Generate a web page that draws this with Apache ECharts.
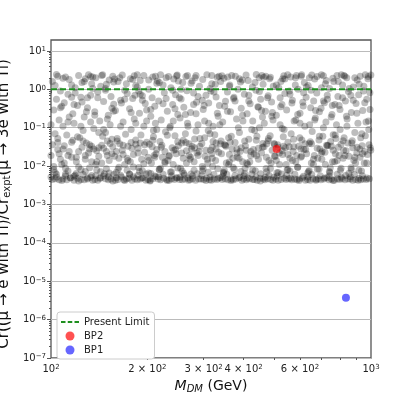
<!DOCTYPE html>
<html>
<head>
<meta charset="utf-8">
<script src="https://cdn.jsdelivr.net/npm/echarts@6/dist/echarts.min.js"></script>
<style>
  html, body { margin: 0; padding: 0; background: #fff; }
  #chart { width: 399px; height: 399px; }
</style>
</head>
<body>
<div id="chart"></div>
<script>
// scan points: [M_DM (GeV), Cr ratio]
const scanPoints = [
  [101,0.0045],[103,0.0047],[106,0.0044],[104,0.0052],[102,0.008],[107,0.015],[105,0.027],[101,0.036],[108,0.011],[103,0.07],[106,0.16],[102,0.29],[104,0.55],[107,0.9],[101,1.6],[105,2.2],
  [109,0.0046],[112,0.0044],[115,0.005],[111,0.0062],[113,0.019],[116,0.042],[110,0.012],[114,0.024],[109,0.11],[112,0.065],[117,0.23],[110,0.45],[113,0.75],[116,1.3],[111,2.1],[114,1.8],
  [118,0.0043],[121,0.0048],[124,0.0045],[119,0.0058],[122,0.0095],[125,0.031],[120,0.017],[123,0.055],[118,0.13],[126,0.085],[121,0.38],[124,0.62],[119,1.1],[122,2.3],[125,1.5],
  [127,0.0044],[130,0.0046],[133,0.0051],[135,0.0043],[128,0.0072],[131,0.022],[134,0.013],[129,0.04],[132,0.028],[136,0.095],[127,0.19],[130,0.33],[133,0.7],[135,1.05],[128,1.9],[131,2.4],[134,1.4],
  [137,0.0045],[140,0.0043],[143,0.0049],[146,0.0055],[138,0.011],[141,0.018],[144,0.035],[139,0.025],[145,0.06],[142,0.15],[137,0.26],[146,0.48],[140,0.85],[143,1.2],[138,2.0],[144,2.3],
  [148,0.0047],[151,0.0044],[154,0.0046],[157,0.006],[149,0.0085],[152,0.014],[155,0.021],[150,0.045],[156,0.032],[153,0.12],[148,0.075],[151,0.21],[157,0.41],[154,0.65],[149,1.35],[152,1.75],[156,2.2],
  [159,0.0043],[162,0.0045],[166,0.0052],[169,0.0044],[160,0.0068],[163,0.016],[167,0.026],[170,0.011],[161,0.052],[164,0.038],[168,0.14],[159,0.28],[165,0.52],[170,0.95],[162,1.6],[167,2.35],
  [172,0.0046],[175,0.0048],[179,0.0043],[183,0.0047],[173,0.0078],[177,0.013],[181,0.02],[174,0.033],[184,0.048],[178,0.09],[182,0.17],[176,0.31],[180,0.58],[173,0.78],[184,1.25],[177,1.9],[182,2.25],
  [186,0.0044],[190,0.0046],[194,0.005],[198,0.0043],[188,0.0092],[192,0.015],[196,0.023],[187,0.029],[199,0.042],[191,0.065],[195,0.11],[189,0.24],[197,0.43],[193,0.68],[186,1.15],[190,1.7],[195,2.3],
  [201,0.0045],[204,0.0043],[208,0.0047],[213,0.0053],[202,0.0066],[206,0.012],[210,0.019],[214,0.027],[203,0.037],[209,0.058],[212,0.13],[205,0.2],[211,0.36],[207,0.6],[202,1.0],[214,1.45],[208,2.1],
  [216,0.0046],[220,0.0044],[225,0.0048],[230,0.0045],[218,0.0081],[223,0.017],[227,0.024],[232,0.014],[219,0.044],[228,0.078],[221,0.16],[231,0.27],[217,0.5],[226,0.82],[224,1.3],[229,2.0],[220,2.4],
  [234,0.0043],[238,0.0047],[243,0.0045],[248,0.005],[236,0.007],[241,0.011],[246,0.021],[239,0.03],[250,0.034],[244,0.062],[235,0.1],[249,0.22],[240,0.4],[245,0.72],[237,1.1],[242,1.85],[247,2.25],
  [252,0.0045],[257,0.0044],[262,0.0046],[268,0.0049],[254,0.0088],[259,0.016],[265,0.025],[270,0.019],[256,0.04],[263,0.07],[253,0.18],[267,0.13],[260,0.34],[255,0.56],[266,0.92],[258,1.5],[264,2.15],
  [272,0.0044],[277,0.0047],[283,0.0043],[290,0.0046],[274,0.0062],[280,0.013],[286,0.022],[275,0.028],[292,0.033],[281,0.051],[288,0.12],[273,0.25],[285,0.46],[279,0.8],[291,1.2],[276,1.65],[284,2.3],
  [294,0.0046],[300,0.0045],[306,0.0048],[313,0.0044],[297,0.0075],[303,0.018],[309,0.012],[315,0.026],[296,0.039],[310,0.085],[302,0.15],[299,0.3],[311,0.44],[305,0.7],[314,1.05],[298,1.8],[307,2.4],
  [317,0.0043],[323,0.0046],[330,0.0045],[338,0.005],[320,0.0097],[327,0.014],[334,0.023],[319,0.031],[340,0.045],[325,0.066],[333,0.2],[321,0.11],[336,0.38],[328,0.63],[318,1.4],[331,2.05],[339,1.6],
  [343,0.0045],[350,0.0047],[357,0.0044],[366,0.0046],[346,0.0069],[353,0.012],[361,0.02],[368,0.028],[348,0.036],[359,0.055],[344,0.14],[364,0.26],[351,0.49],[356,0.85],[362,1.3],[347,1.95],[367,2.3],
  [371,0.0044],[378,0.0046],[386,0.0049],[395,0.0043],[374,0.0083],[382,0.017],[390,0.024],[397,0.013],[376,0.041],[388,0.075],[380,0.17],[393,0.32],[372,0.58],[384,1.0],[391,1.55],[377,2.2],
  [400,0.0046],[408,0.0044],[417,0.0047],[427,0.0045],[403,0.0064],[412,0.011],[421,0.019],[429,0.027],[405,0.034],[415,0.05],[424,0.09],[410,0.23],[419,0.42],[402,0.75],[426,1.15],[413,1.7],[407,2.35],
  [432,0.0045],[441,0.0043],[450,0.0048],[461,0.0046],[435,0.0076],[445,0.015],[455,0.022],[463,0.032],[438,0.047],[448,0.1],[458,0.19],[443,0.35],[452,0.55],[437,0.95],[460,1.35],[447,2.0],[456,2.3],
  [466,0.0044],[475,0.0047],[486,0.0045],[497,0.0051],[470,0.0087],[480,0.014],[491,0.026],[499,0.018],[472,0.038],[484,0.062],[494,0.16],[468,0.27],[489,0.47],[477,0.68],[495,1.2],[482,1.9],[469,2.2],
  [504,0.0046],[513,0.0043],[524,0.0045],[536,0.0048],[508,0.0067],[518,0.011],[529,0.02],[540,0.03],[511,0.036],[532,0.058],[520,0.12],[506,0.21],[527,0.4],[538,0.78],[515,1.1],[523,1.6],[534,2.25],
  [543,0.0045],[553,0.0047],[565,0.0044],[578,0.0046],[547,0.0079],[558,0.016],[571,0.024],[582,0.013],[550,0.042],[563,0.07],[575,0.15],[545,0.29],[568,0.52],[556,0.9],[580,1.3],[561,2.1],[549,2.4],
  [587,0.0044],[597,0.0046],[610,0.0049],[624,0.0043],[590,0.0093],[603,0.017],[617,0.027],[629,0.021],[594,0.033],[608,0.048],[621,0.11],[600,0.24],[614,0.37],[627,0.62],[592,1.0],[619,1.5],[605,2.2],
  [634,0.0045],[645,0.0043],[659,0.0047],[674,0.0045],[638,0.0072],[651,0.012],[665,0.019],[679,0.029],[641,0.039],[655,0.08],[670,0.18],[648,0.33],[662,0.5],[677,0.8],[636,1.25],[667,1.85],[653,2.35],
  [684,0.0047],[697,0.0044],[712,0.0046],[728,0.005],[688,0.0084],[702,0.015],[718,0.023],[733,0.035],[692,0.028],[707,0.06],[723,0.14],[690,0.26],[715,0.45],[730,0.7],[700,1.1],[725,1.7],[710,2.25],
  [739,0.0044],[752,0.0046],[768,0.0043],[786,0.0047],[744,0.0068],[758,0.013],[774,0.021],[790,0.031],[748,0.044],[762,0.066],[780,0.12],[755,0.22],[771,0.4],[788,0.65],[742,1.05],[765,1.6],[783,2.3],
  [797,0.0045],[812,0.0047],[829,0.0044],[848,0.0046],[802,0.0078],[818,0.016],[836,0.025],[853,0.018],[806,0.037],[824,0.055],[842,0.17],[800,0.3],[832,0.5],[850,0.88],[815,1.3],[840,2.0],[808,2.4],
  [861,0.0046],[877,0.0043],[896,0.0045],[918,0.0048],[866,0.009],[884,0.014],[903,0.022],[922,0.028],[871,0.04],[890,0.075],[910,0.13],[868,0.25],[898,0.43],[915,0.72],[880,1.15],[905,1.75],[925,2.2],
  [929,0.0044],[946,0.0046],[967,0.0045],[988,0.0047],[934,0.0074],[953,0.012],[975,0.02],[995,0.03],[938,0.034],[960,0.062],[982,0.15],[942,0.28],[970,0.55],[992,0.82],[950,1.2],[978,1.9],[999,2.35]
]

// more scan points, same units
const scanPointsB = [
  [100,0.0052],[104,0.0061],[108,0.0042],[111,0.0055],[115,0.0049],[102,0.0098],[106,0.021],[110,0.034],[113,0.0075],[117,0.047],[105,0.041],[114,0.19],[100,0.12],[108,0.36],[116,0.62],[103,1.25],[109,1.95],
  [118,0.0054],[122,0.0041],[126,0.006],[130,0.0049],[134,0.0057],[120,0.013],[124,0.008],[128,0.019],[132,0.036],[136,0.028],[121,0.058],[129,0.26],[133,0.14],[125,0.47],[119,0.8],[127,1.6],[135,2.1],
  [138,0.0056],[142,0.0048],[147,0.0063],[151,0.0053],[156,0.0041],[139,0.0079],[144,0.012],[149,0.024],[153,0.039],[158,0.018],[141,0.03],[146,0.09],[155,0.32],[150,0.17],[140,0.6],[148,1.05],[157,1.55],[145,2.4],
  [160,0.005],[165,0.0058],[170,0.0042],[176,0.0061],[181,0.0053],[163,0.0093],[168,0.02],[174,0.014],[179,0.029],[184,0.037],[161,0.045],[171,0.068],[178,0.25],[166,0.44],[183,0.7],[172,1.4],[164,2.0],[180,1.8],
  [187,0.0058],[192,0.0049],[198,0.0062],[204,0.0041],[211,0.0055],[189,0.0072],[195,0.0115],[201,0.017],[207,0.032],[213,0.021],[190,0.04],[199,0.15],[209,0.085],[193,0.52],[205,0.3],[188,0.9],[202,1.75],[212,2.2],
  [217,0.0053],[224,0.0061],[231,0.0042],[238,0.0056],[246,0.0049],[220,0.0088],[227,0.013],[234,0.018],[242,0.026],[249,0.043],[222,0.035],[236,0.11],[244,0.31],[229,0.58],[240,0.95],[218,1.5],[233,2.15],[250,1.65],
  [253,0.0051],[261,0.0059],[269,0.0043],[277,0.0055],[286,0.0063],[257,0.0074],[265,0.012],[273,0.017],[281,0.03],[290,0.024],[259,0.047],[270,0.038],[284,0.082],[263,0.22],[279,0.4],[288,0.65],[255,1.0],[274,1.45],[267,2.3],
  [296,0.0057],[305,0.0042],[314,0.0052],[323,0.006],[333,0.0048],[299,0.0085],[308,0.015],[318,0.021],[328,0.028],[338,0.038],[302,0.055],[321,0.044],[311,0.13],[331,0.24],[297,0.52],[316,0.9],[326,1.35],[335,2.2],
  [344,0.0054],[354,0.0061],[365,0.0042],[376,0.0057],[389,0.0051],[348,0.0078],[359,0.011],[370,0.016],[381,0.022],[393,0.03],[352,0.033],[363,0.042],[385,0.1],[397,0.21],[349,0.36],[373,0.62],[361,1.2],[388,1.9],[342,2.25],
  [401,0.0056],[412,0.0049],[424,0.0062],[437,0.0052],[451,0.0041],[404,0.0088],[418,0.013],[431,0.021],[445,0.029],[459,0.039],[408,0.026],[440,0.06],[427,0.15],[455,0.28],[415,0.5],[448,0.88],[434,1.5],[462,2.05],
  [467,0.0051],[480,0.0058],[494,0.0043],[509,0.0055],[525,0.0062],[472,0.0071],[487,0.012],[502,0.018],[517,0.022],[533,0.033],[477,0.046],[498,0.039],[513,0.031],[528,0.095],[490,0.2],[522,0.35],[475,0.6],[506,1.3],[538,1.85],
  [545,0.0057],[561,0.0048],[578,0.0061],[596,0.0042],[615,0.0054],[550,0.0082],[568,0.014],[586,0.019],[604,0.028],[622,0.038],[555,0.032],[573,0.05],[600,0.13],[590,0.22],[612,0.46],[558,0.75],[628,1.15],[581,2.0],[607,2.4],
  [635,0.0052],[653,0.006],[673,0.0043],[694,0.0056],[716,0.0049],[641,0.0077],[661,0.011],[682,0.016],[704,0.024],[726,0.035],[646,0.043],[688,0.048],[710,0.1],[667,0.16],[698,0.32],[731,0.55],[650,0.95],[720,1.4],[678,2.15],
  [740,0.0055],[761,0.0042],[784,0.0061],[808,0.0051],[833,0.0057],[746,0.0091],[770,0.013],[795,0.019],[821,0.026],[847,0.04],[752,0.033],[777,0.052],[801,0.09],[838,0.2],[757,0.38],[815,0.6],[855,1.05],[790,1.6],[828,2.2],
  [862,0.0053],[887,0.006],[912,0.0043],[940,0.0056],[972,0.0049],[868,0.0081],[895,0.012],[924,0.017],[955,0.024],[986,0.036],[874,0.046],[905,0.031],[936,0.07],[965,0.14],[993,0.3],[880,0.52],[948,0.9],[918,1.35],[980,2.15]
]

// middle of the band and the top row
const scanPointsC = [
  [100,0.019],[103,0.0068],[105,0.052],[107,0.33],[109,0.028],[111,0.0088],[113,0.14],[116,0.017],[118,0.4],[120,0.0064],[122,0.024],[124,0.11],[126,0.045],[128,0.015],[130,0.6],[132,0.0091],[134,0.033],[137,0.21],[139,0.013],[141,0.075],
  [143,0.0071],[146,0.029],[148,0.95],[150,0.019],[152,0.0066],[155,0.05],[157,0.27],[160,0.024],[162,0.0083],[165,0.11],[168,0.035],[170,0.55],[173,0.016],[176,0.0062],[178,0.041],[181,0.0095],[184,0.13],[187,0.022],[190,0.75],[193,0.0076],
  [196,0.036],[199,0.29],[202,0.014],[205,0.0064],[208,0.047],[211,0.017],[214,0.09],[218,0.0082],[221,0.031],[224,0.42],[227,0.012],[231,0.064],[234,0.019],[238,0.0071],[241,0.15],[245,0.027],[249,0.0089],[252,0.6],[256,0.022],[260,0.0065],
  [264,0.041],[268,0.11],[272,0.015],[276,0.033],[280,0.0078],[284,0.23],[288,0.019],[292,0.052],[297,0.0098],[301,0.38],[305,0.026],[310,0.0069],[314,0.07],[319,0.016],[323,0.85],[328,0.04],[332,0.0085],[337,0.12],[341,0.021],[346,0.0066],
  [351,0.035],[356,0.27],[361,0.013],[366,0.06],[371,0.0092],[376,0.5],[381,0.028],[387,0.016],[392,0.0072],[398,0.15],[403,0.045],[409,0.012],[415,0.7],[421,0.024],[427,0.0079],[433,0.085],[439,0.019],[445,0.34],[452,0.0063],[458,0.031],
  [464,0.13],[471,0.017],[478,0.052],[485,0.0087],[492,0.25],[499,0.037],[506,0.014],[513,0.0068],[520,0.6],[528,0.025],[535,0.09],[543,0.011],[550,0.02],[558,0.0075],[566,0.44],[574,0.032],[582,0.16],[590,0.0094],[599,0.055],[607,0.018],
  [616,0.82],[625,0.027],[634,0.0066],[643,0.12],[652,0.038],[661,0.015],[671,0.28],[680,0.0083],[690,0.06],[700,0.022],[710,0.5],[720,0.011],[730,0.034],[741,0.0072],[751,0.19],[762,0.026],[773,0.065],[784,0.014],[795,0.38],[806,0.0088],
  [818,0.046],[829,0.019],[841,0.11],[853,0.0065],[865,0.7],[877,0.03],[890,0.017],[903,0.24],[916,0.0078],[929,0.055],[942,0.021],[956,0.45],[970,0.012],[984,0.09],[998,0.026],
  [104,2.45],[133,2.15],[158,1.85],[186,2.4],[215,1.65],[248,2.35],[282,2.0],[318,2.3],[357,2.1],[396,1.75],[438,2.45],[485,2.05],[530,1.9],[585,2.3],[642,2.0],[700,2.4],[760,1.95],[823,2.3],[890,2.0],[960,2.4]
]

const bp1 = [[835, 3.7e-6]]
const bp2 = [[507, 0.028]]
const limitValue = 1
const xRange = [100, 1000]
const yRange = [1e-7, 19.3]
const xTickLabels = [100, 200, 300, 400, 600, 1000]
const xMinorTicks = [200, 300, 400, 500, 600, 700, 800, 900]
const yDecades = [-7, -6, -5, -4, -3, -2, -1, 0, 1]

const yMinorTicks = []
yDecades.forEach(d => { if (d < 1) for (let k = 2; k <= 9; k++) yMinorTicks.push(d + Math.log10(k)) })
yMinorTicks.push(1 + Math.log10(2))

const FONT = 'DejaVu Sans'
const GREEN = '#1f8f1f'
const supRich = {
  b: { fontFamily: FONT, fontSize: 10, color: '#222', verticalAlign: 'bottom' },
  s: { fontFamily: FONT, fontSize: 7, color: '#222', verticalAlign: 'top' }
}

function xLabel(v) {
  const n = Math.round(Math.pow(10, v))
  if (n === 100) return '{b|10}{s|2}'
  if (n === 1000) return '{b|10}{s|3}'
  return '{b|' + (n / 100) + ' × 10}{s|2}'
}
function yLabel(v) {
  const n = Math.round(v)
  return '{b|10}{s|' + (n < 0 ? '−' + (-n) : n) + '}'
}

const lx = Math.log10
const scatterStyle = { color: 'rgba(0,0,0,0.32)' }
const chart = echarts.init(document.getElementById('chart'))
chart.setOption({
  animation: false,
  backgroundColor: '#fff',
  grid: {
    left: 51, right: 28, top: 40, bottom: 41,
    show: true, borderColor: '#555', borderWidth: 1.3,
    outerBoundsMode: 'none'
  },
  legend: {
    orient: 'vertical', left: 57, top: 312,
    padding: [5, 5, 4, 4], itemGap: 4, itemWidth: 18, itemHeight: 9,
    backgroundColor: '#fff', borderColor: '#ccc', borderWidth: 1, borderRadius: 3,
    textStyle: { fontFamily: FONT, fontSize: 10, color: '#222' },
    data: [
      { name: 'Present Limit', icon: 'path://M0,0h0.1v0.1h-0.1zM0,8.9h0.1v0.1h-0.1zM0,3.5h5v2h-5zM7.5,3.5h5v2h-5zM15,3.5h5v2h-5z', itemStyle: { color: GREEN } },
      { name: 'BP2', icon: 'circle' },
      { name: 'BP1', icon: 'circle' }
    ]
  },
  xAxis: [
    { type: 'log', logBase: 10, min: xRange[0], max: xRange[1],
      axisLine: { show: false }, axisTick: { show: false }, axisLabel: { show: false }, splitLine: { show: false } },
    { type: 'value', min: lx(xRange[0]), max: lx(xRange[1]), position: 'bottom',
      axisLine: { show: false }, splitLine: { show: false },
      axisTick: { show: true, length: 4, customValues: [2, 3], lineStyle: { color: '#555' } },
      axisLabel: { customValues: xTickLabels.map(lx), formatter: xLabel, margin: 6, rich: supRich },
      name: '{it|M}{sub|DM}{base| (GeV)}', nameLocation: 'middle', nameGap: 21,
      nameTextStyle: { rich: {
        it: { fontFamily: FONT, fontSize: 14, fontStyle: 'italic', color: '#111', verticalAlign: 'top' },
        sub: { fontFamily: FONT, fontSize: 10, fontStyle: 'italic', color: '#111', verticalAlign: 'bottom', padding: [5, 0, 0, 0] },
        base: { fontFamily: FONT, fontSize: 14, color: '#111', verticalAlign: 'top' }
      } } },
    { type: 'value', min: lx(xRange[0]), max: lx(xRange[1]), position: 'bottom',
      axisLine: { show: false }, splitLine: { show: false }, axisLabel: { show: false },
      axisTick: { show: true, length: 2, customValues: xMinorTicks.map(lx), lineStyle: { color: '#555' } } }
  ],
  yAxis: [
    { type: 'log', logBase: 10, min: yRange[0], max: yRange[1],
      axisLine: { show: false }, axisTick: { show: false }, axisLabel: { show: false }, splitLine: { show: false } },
    { type: 'value', min: -7, max: lx(yRange[1]), interval: 1, position: 'left',
      axisLine: { show: false },
      splitLine: { show: true, lineStyle: { color: '#bbb', width: 1 } },
      axisTick: { show: true, length: 4, customValues: yDecades, lineStyle: { color: '#555' } },
      axisLabel: { customValues: yDecades, formatter: yLabel, margin: 5, rich: supRich },
      name: '{base|Cr((μ → e with Ti)/Cr}{sub|expt}{base|(μ → 3e with Ti)}',
      nameLocation: 'middle', nameRotate: 90, nameGap: 33,
      nameTextStyle: { padding: [0, 10, 0, 0], rich: {
        base: { fontFamily: FONT, fontSize: 15, color: '#111', verticalAlign: 'top' },
        sub: { fontFamily: FONT, fontSize: 10, color: '#111', verticalAlign: 'bottom', padding: [5, 0, 0, 0] }
      } } },
    { type: 'value', min: -7, max: lx(yRange[1]), position: 'left',
      axisLine: { show: false }, splitLine: { show: false }, axisLabel: { show: false },
      axisTick: { show: true, length: 2, customValues: yMinorTicks, lineStyle: { color: '#555' } } }
  ],
  series: [
    { name: 'scan', type: 'scatter', xAxisIndex: 0, yAxisIndex: 0, data: scanPoints,
      symbolSize: 7, itemStyle: scatterStyle, z: 2 },
    { name: 'scanB', type: 'scatter', xAxisIndex: 0, yAxisIndex: 0, data: scanPointsB,
      symbolSize: 7, itemStyle: scatterStyle, z: 2 },
    { name: 'scanC', type: 'scatter', xAxisIndex: 0, yAxisIndex: 0, data: scanPointsC,
      symbolSize: 7, itemStyle: scatterStyle, z: 2 },
    { name: 'Present Limit', type: 'line', xAxisIndex: 0, yAxisIndex: 0,
      data: xRange.map(x => [x, limitValue]), symbol: 'none',
      lineStyle: { color: GREEN, width: 2, type: [6, 3] }, itemStyle: { color: GREEN }, z: 4 },
    { name: 'BP2', type: 'scatter', xAxisIndex: 0, yAxisIndex: 0, data: bp2,
      symbolSize: 8, itemStyle: { color: 'rgba(255,0,0,0.85)' }, z: 5 },
    { name: 'BP1', type: 'scatter', xAxisIndex: 0, yAxisIndex: 0, data: bp1,
      symbolSize: 8, itemStyle: { color: 'rgba(0,0,255,0.75)' }, z: 5 }
  ]
})
</script>
</body>
</html>
